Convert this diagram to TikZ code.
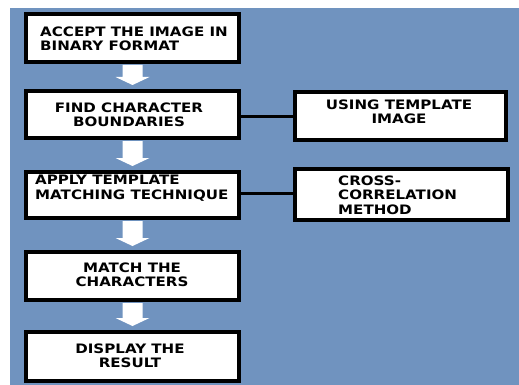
\documentclass[tikz,border=0pt]{standalone}
\usepackage{fontspec}
\setmainfont[FakeStretch=1.16]{DejaVu Sans}
\usetikzlibrary{calc}
\definecolor{bgblue}{RGB}{112,147,191}
\newcommand\blockarrow[2]{\fill[white] ($(#1.south)+(-10,1)$) -- ($(#2.north)+(-10,-12)$) -- ($(#2.north)+(-17,-12)$) -- ($(#2.north)+(0,-4)$) -- ($(#2.north)+(17,-12)$) -- ($(#2.north)+(10,-12)$) -- ($(#1.south)+(10,1)$) -- cycle;}
\begin{document}
\begin{tikzpicture}[x=1pt,y=-1pt,
  box/.style={draw=black,line width=4pt,fill=white,rectangle,inner sep=0pt},
  lbl/.style={font=\bfseries\fontsize{13}{14.5}\selectfont,inner sep=0pt},
  link/.style={draw=black,line width=3pt}]
\useasboundingbox (0,0) rectangle (519,385);
\fill[white] (0,0) rectangle (519,385);
\fill[bgblue] (10,8) rectangle (519,385);
% left column
\node[box,minimum width=213pt,minimum height=48pt] (b1) at (132.5,38) {};
\node[box,minimum width=213pt,minimum height=47pt] (b2) at (132.5,114.5) {};
\node[box,minimum width=213pt,minimum height=46pt] (b3) at (132.5,195) {};
\node[box,minimum width=213pt,minimum height=48pt] (b4) at (132.5,276) {};
\node[box,minimum width=213pt,minimum height=49pt] (b5) at (132.5,356.5) {};
% right column
\node[box,minimum width=211pt,minimum height=48pt] (r1) at (400.5,116) {};
\node[box,minimum width=213pt,minimum height=51pt] (r2) at (401.5,194.5) {};
% texts
\node[lbl,align=left,anchor=west] (t1) at (40,39) {ACCEPT THE IMAGE IN\\BINARY FORMAT};
\node[lbl,align=center] (t2) at (129,115) {FIND CHARACTER\\BOUNDARIES};
\node[lbl,align=left,anchor=west] (t3) at (35,188) {APPLY TEMPLATE\\MATCHING TECHNIQUE};
\node[lbl,align=center] (t4) at (132,275) {MATCH THE\\CHARACTERS};
\node[lbl,align=center] (t5) at (130,356) {DISPLAY THE\\RESULT};
\node[lbl,align=center] (t6) at (399,112) {USING TEMPLATE\\IMAGE};
\node[lbl,align=left,anchor=west] (t7) at (338,195) {CROSS-\\CORRELATION\\METHOD};
% connectors
\draw[link] (b2.east |- 0,117) -- (r1.west |- 0,117);
\draw[link] (b3.east |- 0,193) -- (r2.west |- 0,193);
\blockarrow{b1}{b2}
\blockarrow{b2}{b3}
\blockarrow{b3}{b4}
\blockarrow{b4}{b5}
\end{tikzpicture}
\end{document}
